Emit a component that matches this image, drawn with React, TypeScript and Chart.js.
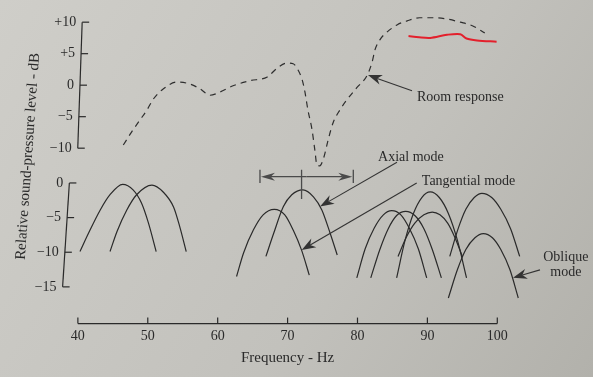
import React, { useEffect, useRef } from 'react';
import { Chart, registerables } from 'chart.js';

Chart.register(...registerables);

// ---------- data (frequency in Hz, level in dB) ----------
// Room response (upper scale, dashed)
const roomFreq = [46.5, 47.7, 48.9, 49.9, 50.8, 52.2, 54.2, 56.0, 57.5, 58.9, 60.3, 62.2, 64.6, 67.1, 68.5, 69.9, 70.8, 71.5, 72.1, 72.5, 72.9, 73.5, 73.9, 74.2, 74.6, 75.2, 75.8, 76.5, 77.5, 78.5, 79.9, 81.4, 82.1, 82.5, 83.2, 84.2, 85.7, 87.1, 88.9, 90.8, 92.8, 94.7, 96.5, 98.2];
const roomLevel = [-9.5, -7.4, -5.5, -3.9, -2.2, -0.6, 0.5, 0.2, -0.6, -1.6, -1.1, -0.1, 0.7, 1.3, 2.7, 3.5, 3.4, 2.4, 0.8, -1.2, -3.9, -7.1, -10.3, -12.7, -12.8, -11.4, -8.7, -6.0, -3.9, -2.3, -0.4, 1.6, 3.7, 5.6, 7.2, 8.4, 9.6, 10.2, 10.7, 10.7, 10.5, 10.0, 9.4, 8.3];

// Hand-drawn red mark (upper scale)
const redFreq = [87.3, 88.8, 90.4, 92.8, 94.7, 95.6, 97.1, 99.9];
const redLevel = [7.8, 7.6, 7.5, 8.0, 8.1, 7.4, 7.1, 6.9];

// Mode curves (lower scale)
const modeAFreq = [40.3, 41.5, 43.2, 44.6, 46.4, 47.9, 49.1, 50.1, 51.2];
const modeALevel = [-9.9, -7.3, -3.9, -1.7, -0.2, -1.0, -2.9, -5.8, -9.9];
const modeBFreq = [44.6, 45.6, 47.0, 48.4, 50.6, 52.2, 53.7, 54.6, 55.5];
const modeBLevel = [-9.9, -7.0, -3.9, -1.7, -0.3, -1.3, -3.5, -6.4, -9.9];
const tangFreq = [62.7, 63.7, 65.1, 66.5, 68.1, 69.6, 70.8, 72.0, 73.1];
const tangLevel = [-13.5, -10.1, -6.8, -4.6, -3.8, -4.6, -6.8, -9.7, -13.3];
const axialFreq = [66.9, 68.0, 69.4, 70.6, 72.2, 73.7, 74.9, 76.1, 77.1];
const axialLevel = [-10.6, -7.3, -3.4, -1.7, -1.0, -2.0, -3.9, -7.3, -10.4];
const m1Freq = [79.9, 81.1, 82.4, 83.7, 84.9, 86.2, 87.4, 88.7, 89.9];
const m1Level = [-13.7, -9.5, -6.5, -4.6, -4.0, -4.6, -6.5, -9.5, -13.7];
const m2Freq = [81.9, 83.2, 84.4, 85.6, 86.9, 88.2, 89.5, 90.7, 92.0];
const m2Level = [-13.7, -9.6, -6.6, -4.7, -4.1, -4.7, -6.6, -9.6, -13.7];
const m3Freq = [85.6, 86.8, 88.0, 89.2, 90.4, 91.7, 93.0, 94.3, 95.6];
const m3Level = [-13.7, -8.3, -4.4, -2.1, -1.3, -2.1, -4.4, -8.3, -13.7];
const m4Freq = [85.8, 87.0, 88.2, 89.5, 90.7, 91.8, 92.9, 93.9, 95.0];
const m4Level = [-10.6, -7.8, -5.8, -4.6, -4.2, -4.6, -5.8, -7.8, -10.6];
const m5Freq = [93.2, 94.4, 95.5, 96.7, 97.8, 99.2, 100.5, 101.9, 103.2];
const m5Level = [-10.6, -6.6, -3.8, -2.1, -1.5, -2.1, -3.8, -6.6, -10.6];
const obliqueFreq = [93.0, 94.3, 95.5, 96.8, 98.0, 99.3, 100.5, 101.8, 103.0];
const obliqueLevel = [-16.6, -12.5, -9.6, -7.9, -7.3, -7.9, -9.6, -12.5, -16.6];

// Bandwidth marker around the axial mode (lower scale)
const bandFreq = [66.05, 79.4];
const bandLevel = 0.9;
const bandCentreFreq = 72.0;

// Ticks
const xTicks = [40, 50, 60, 70, 80, 90, 100];
const upperTicks = [10, 5, 0, -5, -10];
const upperLabels = ['+10', '+5', '0', '\u22125', '\u221210'];
const lowerTicks = [0, -5, -10, -15];
const lowerLabels = ['0', '\u22125', '\u221210', '\u221215'];

// Annotations: [text lines, freq, level, scale, align]
const annotations = [
  { lines: ['Room response'], freq: 88.5, level: -1.9, scale: 'yUp', align: 'left' },
  { lines: ['Axial mode'], freq: 87.65, level: 3.75, scale: 'yLow', align: 'center' },
  { lines: ['Tangential mode'], freq: 89.2, level: 0.2, scale: 'yLow', align: 'left' },
  { lines: ['Oblique', 'mode'], freq: 109.8, level: -10.8, scale: 'yLow', align: 'center' },
];
// Arrows: tail -> tip
const arrows = [
  { scale: 'yUp', from: [87.8, -0.9], to: [81.5, 1.6] },
  { scale: 'yLow', from: [85.65, 3.0], to: [74.64, -3.4] },
  { scale: 'yLow', from: [88.47, 0.0], to: [72.02, -9.67] },
  { scale: 'yLow', from: [106.1, -12.55], to: [102.25, -13.7] },
];

// ---------- layout constants ----------
const INK = '#2a2a2a';
const FONT = '"Liberation Serif", "Times New Roman", serif';
const X_AXIS_LEVEL = -20.3; // on lower scale
const UPPER_AXIS_FREQ = 40.3;
const LOWER_AXIS_FREQ = 38.3;

function drawArrow(ctx: CanvasRenderingContext2D, x1: number, y1: number, x2: number, y2: number, len = 13, half = 4.5) {
  const a = Math.atan2(y2 - y1, x2 - x1);
  const c = Math.cos(a), s = Math.sin(a);
  const nx = x2 - c * len * 0.7, ny = y2 - s * len * 0.7;
  ctx.beginPath();
  ctx.moveTo(x1, y1);
  ctx.lineTo(nx, ny);
  ctx.stroke();
  ctx.beginPath();
  ctx.moveTo(x2, y2);
  ctx.lineTo(x2 - c * len + s * half, y2 - s * len - c * half);
  ctx.lineTo(nx, ny);
  ctx.lineTo(x2 - c * len - s * half, y2 - s * len + c * half);
  ctx.closePath();
  ctx.fill();
}

const overlay = {
  id: 'overlay',
  beforeDraw(chart: any) {
    const { ctx, width, height } = chart;
    const g = ctx.createLinearGradient(0, 0, width, height);
    g.addColorStop(0, '#cfcec9');
    g.addColorStop(0.6, '#c2c1bc');
    g.addColorStop(1, '#b2b1ab');
    ctx.save();
    ctx.fillStyle = g;
    ctx.fillRect(0, 0, width, height);
    ctx.restore();
  },
  afterDatasetsDraw(chart: any) {
    const { ctx } = chart;
    const xs = chart.scales.x;
    const yU = chart.scales.yUp;
    const yL = chart.scales.yLow;
    ctx.save();
    ctx.strokeStyle = INK;
    ctx.fillStyle = INK;
    ctx.lineWidth = 1.2;
    ctx.font = `14px ${FONT}`;

    // X axis
    const ay = yL.getPixelForValue(X_AXIS_LEVEL);
    ctx.beginPath();
    ctx.moveTo(xs.getPixelForValue(xTicks[0]), ay);
    ctx.lineTo(xs.getPixelForValue(xTicks[xTicks.length - 1]), ay);
    ctx.stroke();
    ctx.textAlign = 'center';
    ctx.textBaseline = 'middle';
    xTicks.forEach((t) => {
      const px = xs.getPixelForValue(t);
      ctx.beginPath();
      ctx.moveTo(px, ay);
      ctx.lineTo(px, ay - 6);
      ctx.stroke();
      ctx.fillText(String(t), px, ay + 13);
    });
    ctx.font = `15px ${FONT}`;
    ctx.fillText('Frequency - Hz', xs.getPixelForValue(70), ay + 34);

    // Y axes (slight lean, as in the photographed page)
    const drawYAxis = (scale: any, freq: number, ticks: number[], labels: string[], lean: number) => {
      const y0 = scale.getPixelForValue(ticks[0]);
      const y1 = scale.getPixelForValue(ticks[ticks.length - 1]);
      const mid = (y0 + y1) / 2;
      const bx = xs.getPixelForValue(freq);
      const xAt = (y: number) => bx + lean * (y - mid);
      ctx.beginPath();
      ctx.moveTo(xAt(y0), y0);
      ctx.lineTo(xAt(y1), y1);
      ctx.stroke();
      ctx.font = `14px ${FONT}`;
      ctx.textAlign = 'right';
      ctx.textBaseline = 'middle';
      ticks.forEach((t, i) => {
        const py = scale.getPixelForValue(t);
        ctx.beginPath();
        ctx.moveTo(xAt(py), py);
        ctx.lineTo(xAt(py) + 7, py);
        ctx.stroke();
        ctx.fillText(labels[i], xAt(py) - 6, py);
      });
    };
    drawYAxis(yU, UPPER_AXIS_FREQ, upperTicks, upperLabels, -0.035);
    drawYAxis(yL, LOWER_AXIS_FREQ, lowerTicks, lowerLabels, -0.065);

    // Y title
    ctx.save();
    ctx.translate(28, yU.getPixelForValue(-11.3));
    ctx.rotate((-86 * Math.PI) / 180);
    ctx.font = `15px ${FONT}`;
    ctx.textAlign = 'center';
    ctx.textBaseline = 'middle';
    ctx.fillText('Relative sound-pressure level - dB', 0, 0);
    ctx.restore();

    // Bandwidth marker
    ctx.strokeStyle = '#4a4a4a';
    ctx.fillStyle = '#4a4a4a';
    ctx.lineWidth = 1.3;
    const bx1 = xs.getPixelForValue(bandFreq[0]);
    const bx2 = xs.getPixelForValue(bandFreq[1]);
    const by = yL.getPixelForValue(bandLevel);
    const bTop = yL.getPixelForValue(bandLevel + 1.0);
    const bBot = yL.getPixelForValue(bandLevel - 0.9);
    ctx.beginPath();
    ctx.moveTo(bx1, bTop); ctx.lineTo(bx1, bBot);
    ctx.moveTo(bx2, bTop); ctx.lineTo(bx2, bBot);
    const cx = xs.getPixelForValue(bandCentreFreq);
    ctx.moveTo(cx, bTop); ctx.lineTo(cx, yL.getPixelForValue(-2.3));
    ctx.stroke();
    const bmid = (bx1 + bx2) / 2;
    drawArrow(ctx, bmid, by, bx1 + 1, by, 14, 4);
    drawArrow(ctx, bmid, by, bx2 - 1, by, 14, 4);

    // Annotation arrows
    ctx.strokeStyle = '#333333';
    ctx.fillStyle = '#333333';
    ctx.lineWidth = 1.1;
    arrows.forEach((a) => {
      const sc = chart.scales[a.scale];
      drawArrow(
        ctx,
        xs.getPixelForValue(a.from[0]), sc.getPixelForValue(a.from[1]),
        xs.getPixelForValue(a.to[0]), sc.getPixelForValue(a.to[1]),
        14, 5
      );
    });

    // Annotation texts
    ctx.fillStyle = INK;
    ctx.font = `14px ${FONT}`;
    ctx.textBaseline = 'middle';
    annotations.forEach((an) => {
      const sc = chart.scales[an.scale];
      ctx.textAlign = an.align as CanvasTextAlign;
      const px = xs.getPixelForValue(an.freq);
      const py = sc.getPixelForValue(an.level);
      an.lines.forEach((l, i) => ctx.fillText(l, px, py + i * 15));
    });
    ctx.restore();
  },
};

export default function App() {
  const ref = useRef<HTMLCanvasElement>(null);
  useEffect(() => {
    const canvas = ref.current!;
    const pts = (xa: number[], ya: number[]) => xa.map((x, i) => ({ x, y: ya[i] }));
    const mode = (xa: number[], ya: number[]) => ({
      data: pts(xa, ya),
      yAxisID: 'yLow',
      borderColor: INK,
      borderWidth: 1.2,
      pointRadius: 0,
      cubicInterpolationMode: 'monotone' as const,
      fill: false,
    });
    const chart = new Chart(canvas, {
      type: 'line',
      data: {
        datasets: [
          {
            data: pts(roomFreq, roomLevel),
            yAxisID: 'yUp',
            borderColor: '#2e2e2e',
            borderWidth: 1.2,
            borderDash: [6, 5],
            pointRadius: 0,
            cubicInterpolationMode: 'monotone',
            fill: false,
          },
          {
            data: pts(redFreq, redLevel),
            yAxisID: 'yUp',
            borderColor: '#e3202c',
            borderWidth: 2,
            pointRadius: 0,
            tension: 0.3,
            fill: false,
          },
          mode(modeAFreq, modeALevel),
          mode(modeBFreq, modeBLevel),
          mode(tangFreq, tangLevel),
          mode(axialFreq, axialLevel),
          mode(m1Freq, m1Level),
          mode(m2Freq, m2Level),
          mode(m3Freq, m3Level),
          mode(m4Freq, m4Level),
          mode(m5Freq, m5Level),
          mode(obliqueFreq, obliqueLevel),
        ],
      },
      options: {
        animation: false,
        responsive: false,
        events: [],
        layout: { padding: 0 },
        plugins: { legend: { display: false }, tooltip: { enabled: false } },
        scales: {
          x: { type: 'linear', min: 28.86, max: 113.69, display: false },
          y: { display: false },
          yUp: { type: 'linear', min: -46.32, max: 13.52, display: false },
          yLow: { type: 'linear', min: -28.01, max: 26.41, display: false },
        },
      },
      plugins: [overlay],
    });
    return () => chart.destroy();
  }, []);
  return (
    <div style={{ position: 'absolute', left: 0, top: 0 }}>
      <canvas ref={ref} width={593} height={377} style={{ display: 'block' }} />
    </div>
  );
}
